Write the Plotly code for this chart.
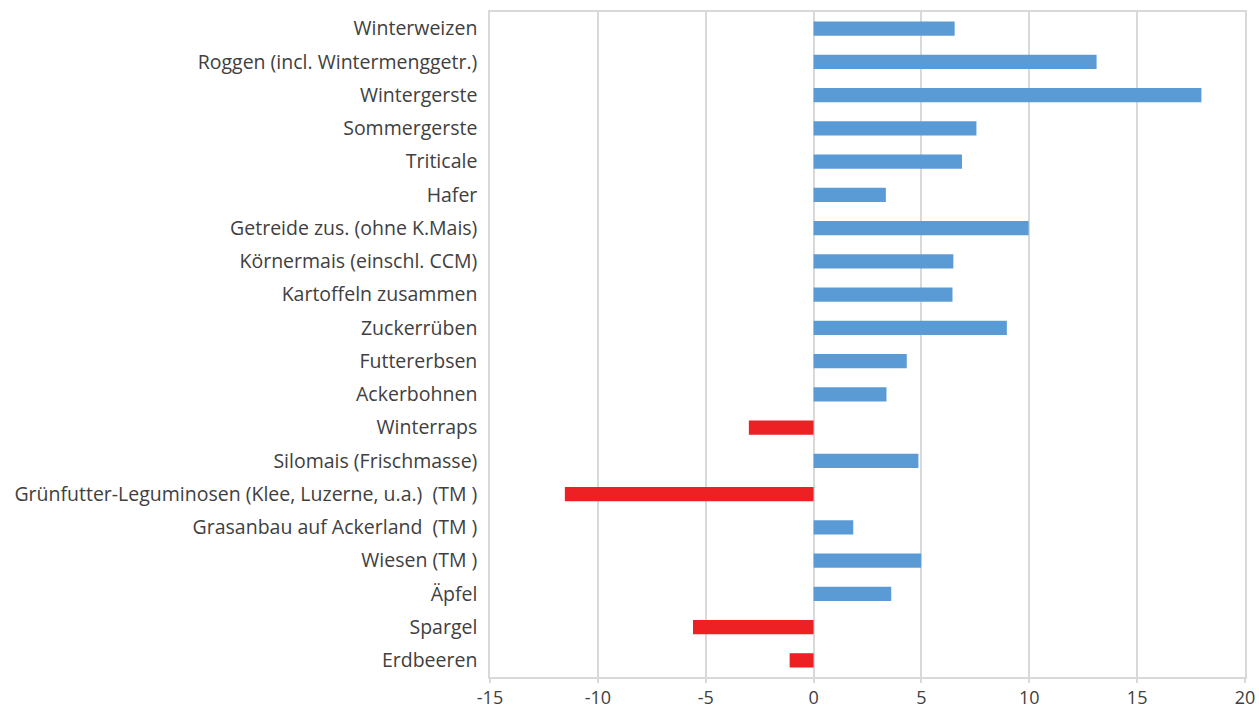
import plotly.graph_objects as go

categories = [
    "Winterweizen",
    "Roggen (incl. Wintermenggetr.)",
    "Wintergerste",
    "Sommergerste",
    "Triticale",
    "Hafer",
    "Getreide zus. (ohne K.Mais)",
    "Körnermais (einschl. CCM)",
    "Kartoffeln zusammen",
    "Zuckerrüben",
    "Futtererbsen",
    "Ackerbohnen",
    "Winterraps",
    "Silomais (Frischmasse)",
    "Grünfutter-Leguminosen (Klee, Luzerne, u.a.)\u00a0\u00a0(TM\u00a0)",
    "Grasanbau auf Ackerland\u00a0\u00a0(TM\u00a0)",
    "Wiesen (TM\u00a0)",
    "Äpfel",
    "Spargel",
    "Erdbeeren",
]
values = [6.54, 13.12, 17.98, 7.55, 6.88, 3.35, 9.97, 6.48, 6.44, 8.96,
          4.32, 3.38, -3.0, 4.86, -11.53, 1.84, 4.99, 3.6, -5.59, -1.11]

x_ticks = [-15, -10, -5, 0, 5, 10, 15, 20]

POS = "#5B9BD5"
NEG = "#ED2024"
colors = [POS if v >= 0 else NEG for v in values]

fig = go.Figure(go.Bar(
    x=values, y=categories, orientation="h",
    marker=dict(color=colors, line=dict(width=0)),
    width=0.43,
    hoverinfo="x+y",
))

grid = "#D9D9D9"
txt = "#404040"
fs = 19.5
fig.update_layout(
    width=1259, height=711,
    margin=dict(l=490, r=14, t=12, b=34, autoexpand=False),
    paper_bgcolor="white", plot_bgcolor="white",
    font=dict(family="Open Sans, Segoe UI, sans-serif", size=fs, color=txt),
    showlegend=False,
    xaxis=dict(
        range=[-15, 20], tickvals=x_ticks, ticktext=[str(t) for t in x_ticks],
        showgrid=True, gridcolor=grid, gridwidth=1.5,
        zeroline=True, zerolinecolor=grid, zerolinewidth=1.5,
        showline=True, linecolor=grid, linewidth=1.5, mirror=True,
        ticks="outside", tickcolor=grid, ticklen=4, tickwidth=1.5,
        tickfont=dict(size=18, color=txt),
        automargin=False, fixedrange=True,
    ),
    yaxis=dict(
        autorange="reversed", type="category",
        showgrid=False, zeroline=False,
        showline=True, linecolor=grid, linewidth=1.5, mirror=True,
        ticks="", ticklabelstandoff=7,
        tickfont=dict(size=fs, color=txt),
        automargin=False, fixedrange=True,
    ),
)

fig.write_html(
    "out.html",
    config={"displayModeBar": False},
    post_script="document.body.style.margin='0';document.body.style.padding='0';",
)
